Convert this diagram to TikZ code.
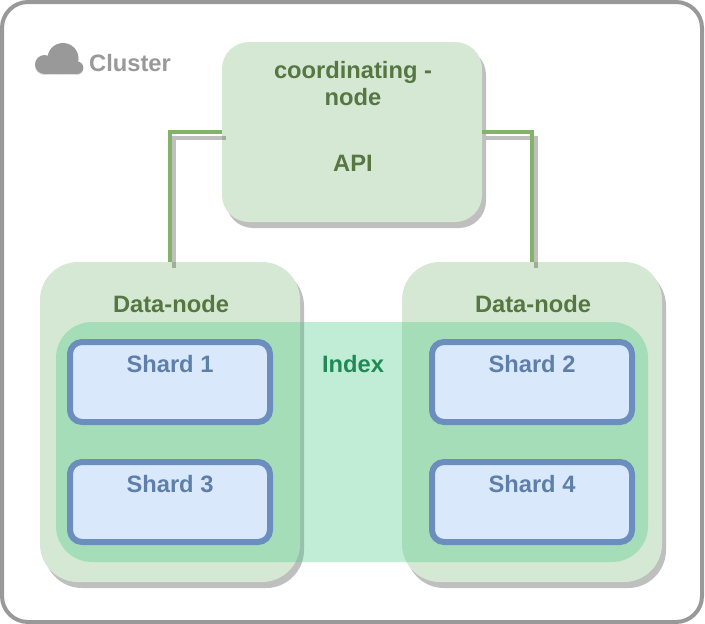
\documentclass[tikz,border=0pt]{standalone}
\usepackage{fontspec}
\setmainfont{Liberation Sans}
\usetikzlibrary{shadows,calc}
\definecolor{framegrey}{HTML}{999999}
\definecolor{greenfill}{HTML}{D5E8D4}
\definecolor{greenline}{HTML}{82B366}
\definecolor{greentext}{HTML}{567642}
\definecolor{bluefill}{HTML}{DAE8FC}
\definecolor{blueline}{HTML}{6C8EBF}
\definecolor{bluetext}{HTML}{5F7FAB}
\definecolor{indexfill}{HTML}{45C880}
\definecolor{indextext}{HTML}{1F8A55}
\tikzset{
  boxbase/.style={rectangle,inner sep=0pt,outer sep=0pt},
  softshadow/.style={general shadow={shadow xshift=4pt,shadow yshift=-6pt,fill=black,opacity=0.25}},
  framebox/.style={boxbase,draw=framegrey,line width=4pt,fill=white,rounded corners=26pt,minimum width=700pt,minimum height=620pt},
  coordbox/.style={boxbase,softshadow,fill=greenfill,rounded corners=27pt,minimum width=260pt,minimum height=180pt},
  databox/.style={boxbase,softshadow,fill=greenfill,rounded corners=38pt,minimum width=260pt,minimum height=320pt},
  indexbox/.style={boxbase,fill=indexfill,fill opacity=0.33,rounded corners=36pt,minimum width=592pt,minimum height=240pt},
  shardbox/.style={boxbase,draw=blueline,line width=6pt,fill=bluefill,rounded corners=12pt,minimum width=200pt,minimum height=80pt},
  labelbase/.style={inner sep=0pt,font=\fontsize{23.7}{27}\selectfont\bfseries,align=center},
  greenlabel/.style={labelbase,text=greentext},
  bluelabel/.style={labelbase,text=bluetext},
  indexlabel/.style={labelbase,text=indextext},
  clusterlabel/.style={labelbase,text=framegrey,anchor=west},
  linkline/.style={draw=greenline,line width=4pt},
  linkshadow/.style={draw=black,draw opacity=0.25,line width=4pt},
}
\begin{document}
\begin{tikzpicture}[x=1pt,y=-1pt]
\useasboundingbox (0,0) rectangle (705,624);
\node[framebox] (frame) at (352,312) {};
% cloud
\begin{scope}[shift={(0,1.2)}]
\fill[black!12] (44.5,64.5) circle (9.5);
\fill[black!12] (77,67.7) circle (6.3);
\fill[black!12] (44.5,64) rectangle (77,74);
\end{scope}
\fill[framegrey] (44.5,64.5) circle (9.5);
\fill[framegrey] (63,58.5) circle (15.5);
\fill[framegrey] (77,67.7) circle (6.3);
\fill[framegrey] (44.5,64) rectangle (77,74);
\node[clusterlabel] (clusterText) at (89,63) {Cluster};
% boxes
\node[coordbox] (coord) at (352,132) {};
\node[databox] (dataL) at (170,422) {};
\node[databox] (dataR) at (532,422) {};
\node[indexbox] (index) at (352,442) {};
\node[shardbox] (s1) at (170,382) {};
\node[shardbox] (s3) at (170,502) {};
\node[shardbox] (s2) at (532,382) {};
\node[shardbox] (s4) at (532,502) {};
% connectors
\draw[linkshadow] ($(coord.west)+(4,6)$) -| ($(dataL.north)+(4,6)$);
\draw[linkshadow] ($(coord.east)+(4,6)$) -| ($(dataR.north)+(4,6)$);
\draw[linkline] (coord.west) -| (dataL.north);
\draw[linkline] (coord.east) -| (dataR.north);
% labels
\node[greenlabel] (coordTextA) at (353,72.3) {coordinating -};
\node[greenlabel] (coordTextB) at (353,97.5) {node};
\node[greenlabel] (apiText) at (353,163.5) {API};
\node[greenlabel] (dataTextL) at (171,304) {Data-node};
\node[greenlabel] (dataTextR) at (533,304) {Data-node};
\node[indexlabel] (indexText) at (353,364.5) {Index};
\node[bluelabel] (t1) at (170,364) {Shard 1};
\node[bluelabel] (t3) at (170,484) {Shard 3};
\node[bluelabel] (t2) at (532,364) {Shard 2};
\node[bluelabel] (t4) at (532,484) {Shard 4};
\end{tikzpicture}
\end{document}
